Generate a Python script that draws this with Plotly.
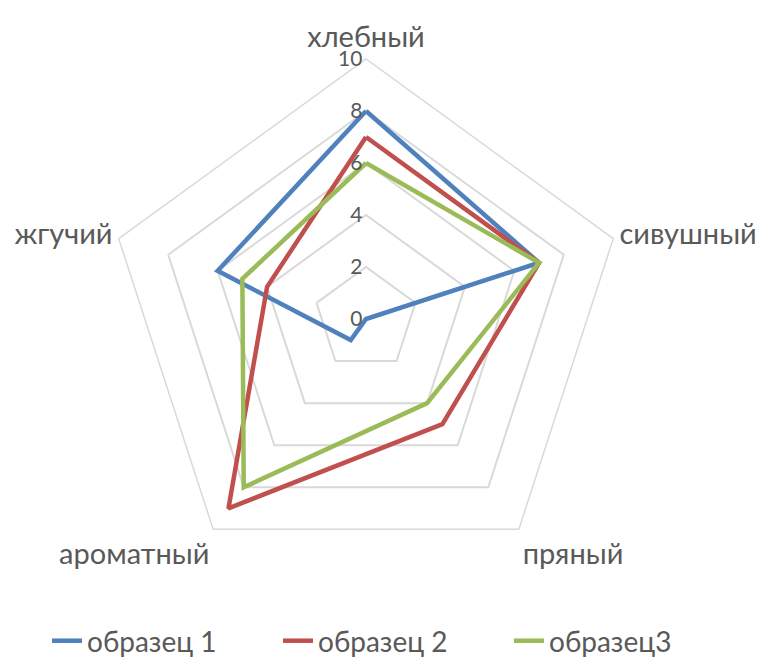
import plotly.graph_objects as go

categories = ["хлебный", "сивушный", "пряный", "ароматный", "жгучий"]
series_names = ["образец 1", "образец 2", "образец3"]
s1 = [8, 7, 0, 1, 6]
s2 = [7, 7, 5, 9, 4]
s3 = [6, 7, 4, 8, 5]
colors = ["#4f81bd", "#c0504d", "#9bbb59"]

W, H = 763, 657
cx, cy, R = 366, 319, 260

fig = go.Figure()
for name, vals, col in zip(series_names, [s1, s2, s3], colors):
    fig.add_trace(go.Scatterpolar(
        r=vals + vals[:1], theta=categories + categories[:1],
        mode="lines", name=name,
        line=dict(color=col, width=4.5, shape="linear"),
    ))

FONT = "Lato, Open Sans, sans-serif"
fig.update_layout(
    width=W, height=H,
    margin=dict(l=0, r=0, t=0, b=0, autoexpand=False),
    paper_bgcolor="white",
    font=dict(family=FONT, color="#595959"),
    polar=dict(
        domain=dict(x=[(cx - R) / W, (cx + R) / W], y=[1 - (cy + R) / H, 1 - (cy - R) / H]),
        bgcolor="white",
        gridshape="linear",
        angularaxis=dict(
            rotation=90, direction="clockwise",
            showgrid=False, showline=True, linecolor="#d9d9d9", linewidth=1.5,
            ticks="", tickfont=dict(size=29, color="#595959", family=FONT),
        ),
        radialaxis=dict(
            range=[0, 10], dtick=2, angle=90, tickangle=90,
            side="counterclockwise",
            showline=False, ticks="",
            gridcolor="#d9d9d9", gridwidth=1.5,
            tickfont=dict(size=21, color="#595959", family=FONT),
        ),
    ),
    showlegend=True,
    legend=dict(orientation="h", x=47 / W, xanchor="left", y=1 - 641 / H, yanchor="middle",
                font=dict(size=28, color="#595959", family=FONT),
                entrywidth=186, entrywidthmode="pixels"),
)

fig.write_html("out.html")
